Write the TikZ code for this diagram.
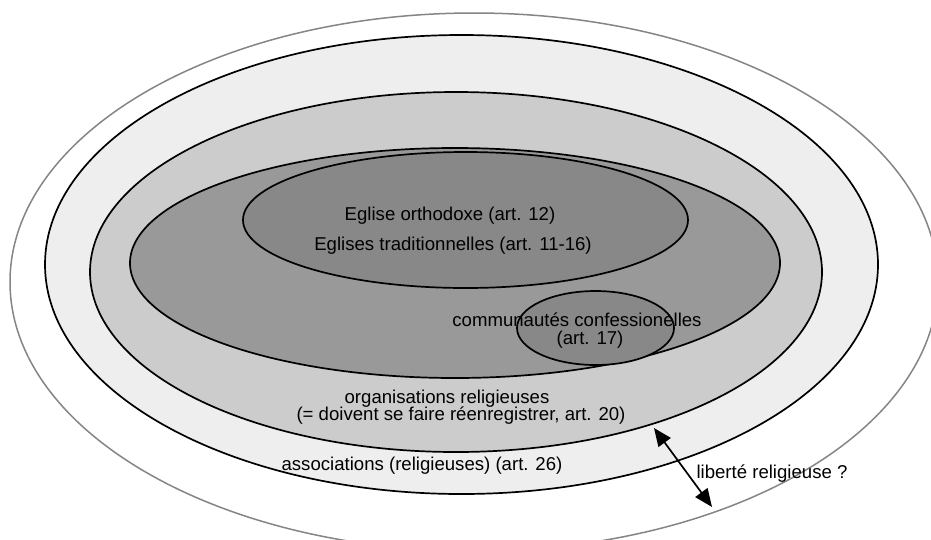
\documentclass[tikz,border=0pt]{standalone}
\usepackage{fontspec}
\setmainfont{Liberation Sans}
\usetikzlibrary{shapes.geometric,arrows.meta}
\definecolor{rimgray}{HTML}{858585}
\definecolor{assocfill}{HTML}{EEEEEE}
\definecolor{orgsfill}{HTML}{CCCCCC}
\definecolor{tradfill}{HTML}{999999}
\definecolor{orthofill}{HTML}{888888}
\begin{document}
\begin{tikzpicture}[x=1pt,y=-1pt,
  set/.style={ellipse, draw, line width=1.7pt, inner sep=0pt, outer sep=0pt},
  lbl/.style={anchor=base, inner sep=0pt, font=\fontsize{18.6}{20}\selectfont},
  >={Triangle[length=18pt,width=15pt]}]
\clip (0,0) rectangle (931,539);
\node[set, draw=rimgray, line width=1.5pt, fill=white, minimum width=928pt, minimum height=538pt] (outer) at (474,282){};
\node[set, fill=assocfill, minimum width=833pt, minimum height=459pt] (assoc) at (461.5,264.5){};
\node[set, fill=orgsfill, minimum width=732pt, minimum height=360pt] (orgs) at (456,272){};
\node[set, fill=tradfill, minimum width=650pt, minimum height=230pt] (trad) at (455,263){};
\node[set, fill=orthofill, minimum width=445pt, minimum height=136pt] (ortho) at (465.5,220){};
\node[set, fill=orthofill, minimum width=157pt, minimum height=74pt] (conf) at (595.5,328){};
\node[lbl] (orthotxt) at (450,220){Eglise orthodoxe (art. 12)};
\node[lbl] (tradtxt) at (453,250){Eglises traditionnelles (art. 11-16)};
\node[lbl] (conftxt) at (577,326){communautés confessionelles};
\node[lbl] (confart) at (590,344){(art. 17)};
\node[lbl] (orgstxt) at (447,403){organisations religieuses};
\node[lbl] (orgsart) at (461,420){(= doivent se faire réenregistrer, art. 20)};
\node[lbl] (assoctxt) at (422,470){associations (religieuses) (art. 26)};
\node[lbl] (libtxt) at (772,478){liberté religieuse ?};
\coordinate (libtop) at (654,428);
\coordinate (libbot) at (712,507);
\draw[<->, line width=1.7pt](libtop) -- (libbot);
\end{tikzpicture}
\end{document}
